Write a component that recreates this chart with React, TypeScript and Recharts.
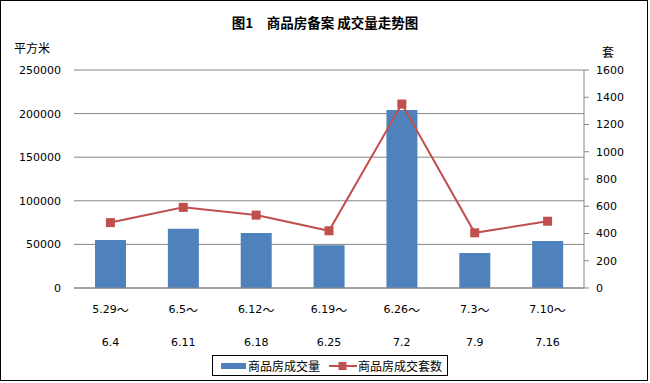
import { ComposedChart, Bar, Line, XAxis, YAxis, CartesianGrid } from "recharts";

// 周期起止
const periodStarts = ["5.29", "6.5", "6.12", "6.19", "6.26", "7.3", "7.10"];
const periodEnds = ["6.4", "6.11", "6.18", "6.25", "7.2", "7.9", "7.16"];
// 商品房成交量（平方米）
const areaValues = [55000, 68000, 63000, 49000, 204000, 40000, 54000];
// 商品房成交套数（套）
const unitValues = [480, 592, 535, 420, 1350, 405, 490];

const leftTicks = [0, 50000, 100000, 150000, 200000, 250000];
const rightTicks = [0, 200, 400, 600, 800, 1000, 1200, 1400, 1600];

const BAR_COLOR = "#4F81BD";
const LINE_COLOR = "#C0504D";
const TICK_FONT = "'DejaVu Sans', Tahoma, sans-serif";
const CJK_FONT = "'Noto Sans CJK SC', 'Noto Sans', sans-serif";

const data = periodStarts.map((s, i) => ({
  start: s,
  end: periodEnds[i],
  name: s + "～" + periodEnds[i],
  area: areaValues[i],
  units: unitValues[i],
}));

const PeriodTick = (props: any) => {
  const { x, y, index } = props;
  const row = data[index];
  return (
    <g>
      <text x={x} y={y + 13} textAnchor="middle" dominantBaseline="central" fontSize={11} fontFamily={TICK_FONT} fill="#000">
        {row.start}
        <tspan fontFamily={CJK_FONT} fontSize={12}>～</tspan>
      </text>
      <text x={x} y={y + 46} textAnchor="middle" dominantBaseline="central" fontSize={11} fontFamily={TICK_FONT} fill="#000">
        {row.end}
      </text>
    </g>
  );
};

const SquareDot = (props: any) => {
  const { cx, cy } = props;
  if (cx == null || cy == null) return null;
  return <rect x={cx - 4.5} y={cy - 4.5} width={9} height={9} fill={LINE_COLOR} />;
};

export default function App() {
  return (
    <div
      style={{
        position: "absolute",
        left: 0,
        top: 0,
        width: 650,
        height: 383,
        background: "#fff",
      }}
    >
      <div
        style={{
          position: "absolute",
          left: 0,
          top: 0,
          width: 648,
          height: 381,
          border: "1px solid #000",
          boxSizing: "border-box",
        }}
      />
      <div
        style={{
          position: "absolute",
          left: 0,
          top: 12,
          width: 650,
          textAlign: "center",
          fontFamily: CJK_FONT,
          fontWeight: 700,
          fontSize: 13.5,
        }}
      >
        图1　商品房备案 成交量走势图
      </div>
      <div style={{ position: "absolute", left: 14, top: 39, fontFamily: CJK_FONT, fontSize: 12 }}>平方米</div>
      <div style={{ position: "absolute", left: 602, top: 43, fontFamily: CJK_FONT, fontSize: 12 }}>套</div>

      <div style={{ position: "absolute", left: 0, top: 0 }}>
        <ComposedChart
          width={650}
          height={383}
          data={data}
          margin={{ top: 70, right: 0, bottom: 35, left: 0 }}
          barSize={31}
        >
          <CartesianGrid vertical={false} stroke="#868686" strokeWidth={1} yAxisId="left" />
          <XAxis
            dataKey="name"
            tick={<PeriodTick />}
            tickLine={false}
            axisLine={{ stroke: "#868686" }}
            height={60}
            interval={0}
          />
          <YAxis
            yAxisId="left"
            orientation="left"
            domain={[0, 250000]}
            ticks={leftTicks}
            width={74}
            tickLine={false}
            axisLine={false}
            tickMargin={7}
            tick={{ fontSize: 11, fontFamily: TICK_FONT, fill: "#000" }}
            interval={0}
          />
          <YAxis
            yAxisId="right"
            orientation="right"
            domain={[0, 1600]}
            ticks={rightTicks}
            width={66}
            tickSize={5}
            tickMargin={7}
            tickLine={{ stroke: "#868686" }}
            axisLine={{ stroke: "#868686" }}
            tick={{ fontSize: 11, fontFamily: TICK_FONT, fill: "#000", textAnchor: "start" }}
            interval={0}
          />
          <Bar yAxisId="left" dataKey="area" fill={BAR_COLOR} isAnimationActive={false} />
          <Line
            yAxisId="right"
            dataKey="units"
            stroke={LINE_COLOR}
            strokeWidth={2}
            dot={<SquareDot />}
            activeDot={false}
            isAnimationActive={false}
          />
        </ComposedChart>
      </div>

      <div
        style={{
          position: "absolute",
          left: 212,
          top: 355,
          width: 236,
          height: 21,
          border: "1px solid #000",
          boxSizing: "border-box",
          display: "flex",
          alignItems: "center",
          fontFamily: CJK_FONT,
          fontSize: 12,
        }}
      >
        <svg width={34} height={10} style={{ marginLeft: 7 }}>
          <rect x={1} y={2} width={25} height={6} fill={BAR_COLOR} />
        </svg>
        <span style={{ marginLeft: -6 }}>商品房成交量</span>
        <svg width={34} height={10} style={{ marginLeft: 8 }}>
          <line x1={1} y1={5} x2={29} y2={5} stroke={LINE_COLOR} strokeWidth={2} />
          <rect x={10.5} y={1} width={8} height={8} fill={LINE_COLOR} />
        </svg>
        <span style={{ marginLeft: -4 }}>商品房成交套数</span>
      </div>
    </div>
  );
}
